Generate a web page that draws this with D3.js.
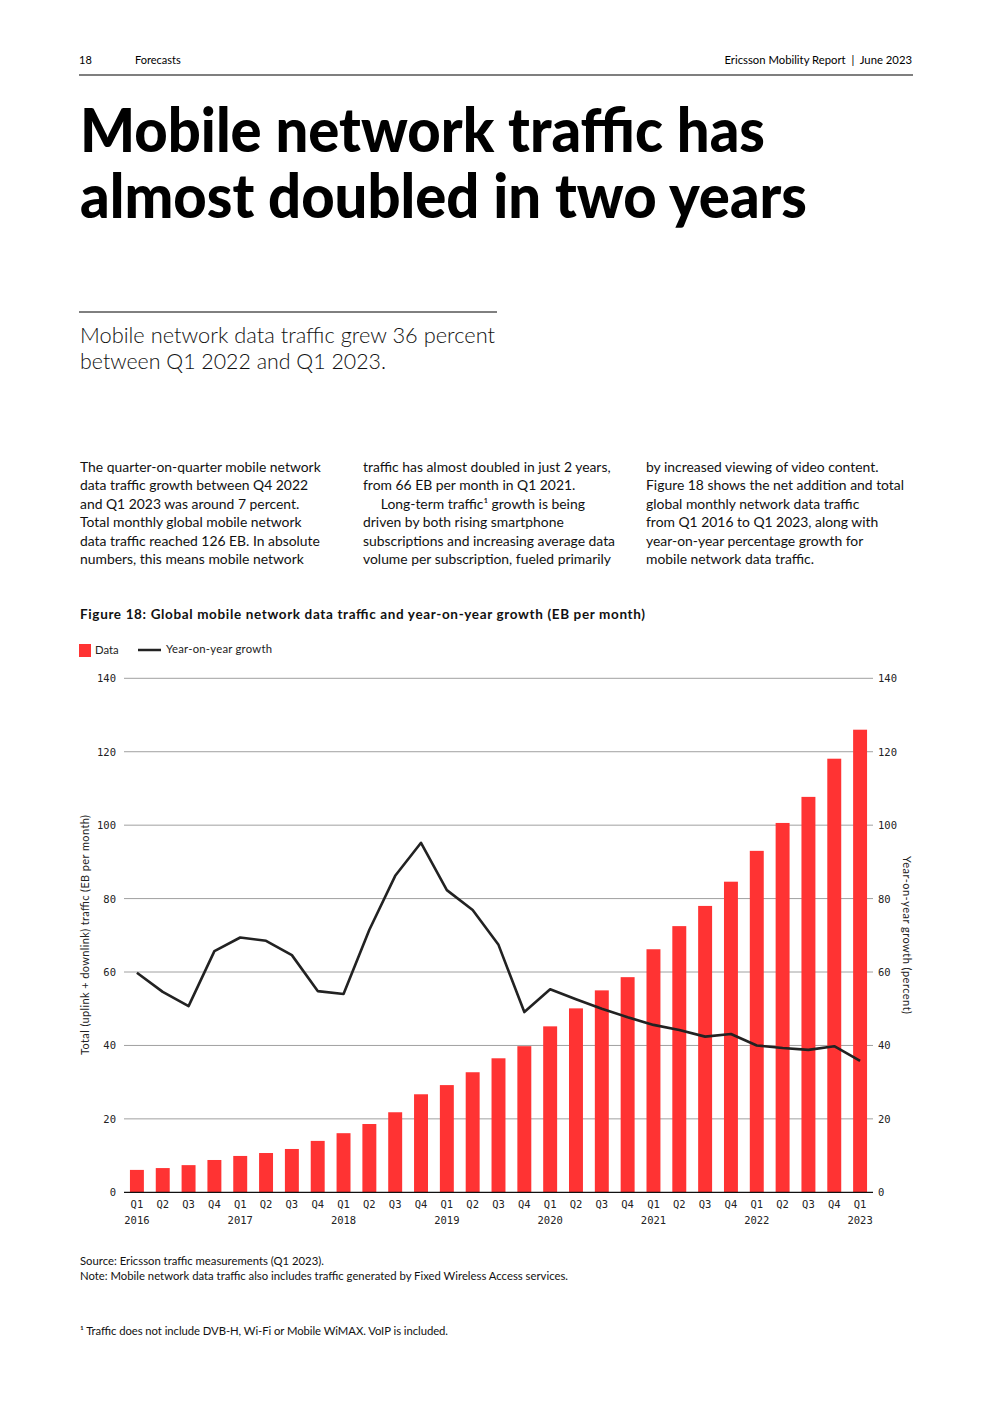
<!DOCTYPE html>
<html>
  <head>
    <meta charset="utf-8">
    <style>
      body { margin: 0; background: #fff; }
      svg { display: block; }
      .sans { font-family: Lato, "Noto Sans", sans-serif; }
      .mono { font-family: "DejaVu Sans Mono", monospace; }
    </style>
  </head>
  <body>
    <script src="https://cdn.jsdelivr.net/npm/d3@7"></script>
    <script type="text/javascript">
      // Figure 18: global mobile network data traffic (EB per month) and yoy growth
      const quarters = ['Q1','Q2','Q3','Q4','Q1','Q2','Q3','Q4','Q1','Q2','Q3','Q4','Q1','Q2','Q3','Q4',
        'Q1','Q2','Q3','Q4','Q1','Q2','Q3','Q4','Q1','Q2','Q3','Q4','Q1'];
      const years = ['2016','2017','2018','2019','2020','2021','2022','2023'];
      const traffic = [6.1, 6.6, 7.4, 8.8, 9.9, 10.7, 11.8, 14.0, 16.1, 18.6, 21.8, 26.7, 29.2, 32.7, 36.5, 39.8,
        45.2, 50.1, 55.0, 58.6, 66.2, 72.5, 78.0, 84.6, 93.0, 100.6, 107.7, 118.1, 126.0];
      const growth = [59.8, 54.6, 50.7, 65.7, 69.4, 68.5, 64.6, 54.8, 54.0, 71.5, 86.2, 95.2, 82.3, 76.9, 67.4, 49.1,
        55.3, 52.6, 50.0, 47.7, 45.6, 44.2, 42.4, 43.1, 40.0, 39.3, 38.8, 39.8, 35.8];
      const yTicks = [0, 20, 40, 60, 80, 100, 120, 140];

      const col1 = ['The quarter-on-quarter mobile network', 'data traffic growth between Q4 2022',
        'and Q1 2023 was around 7 percent.', 'Total monthly global mobile network',
        'data traffic reached 126 EB. In absolute', 'numbers, this means mobile network'];
      const col2 = ['traffic has almost doubled in just 2 years,', 'from 66 EB per month in Q1 2021.',
        '     Long-term traffic\u00b9 growth is being', 'driven by both rising smartphone',
        'subscriptions and increasing average data', 'volume per subscription, fueled primarily'];
      const col3 = ['by increased viewing of video content.', 'Figure 18 shows the net addition and total',
        'global monthly network data traffic', 'from Q1 2016 to Q1 2023, along with',
        'year-on-year percentage growth for', 'mobile network data traffic.'];

      const W = 992, H = 1403;
      const red = '#ff3333';

      const svg = d3.select('body').append('svg')
        .attr('width', W)
        .attr('height', H);

      // page header
      svg.append('text').attr('class', 'sans').attr('x', 79).attr('y', 64)
        .attr('font-size', 11).text('18');
      svg.append('text').attr('class', 'sans').attr('x', 135).attr('y', 64)
        .attr('font-size', 11).text('Forecasts');
      svg.append('text').attr('class', 'sans').attr('x', 912).attr('y', 64)
        .attr('font-size', 11.3).attr('text-anchor', 'end')
        .style('white-space', 'pre')
        .text('Ericsson Mobility Report  |  June 2023');
      svg.append('line').attr('x1', 79).attr('x2', 913).attr('y1', 75).attr('y2', 75)
        .attr('stroke', '#000').attr('stroke-width', 1.2);

      // headline
      const title = svg.append('text').attr('class', 'sans')
        .attr('font-size', 61).attr('font-weight', 900).attr('fill', '#000');
      title.append('tspan').attr('x', 80).attr('y', 152)
        .attr('textLength', 685).attr('lengthAdjust', 'spacingAndGlyphs')
        .text('Mobile network traffic has');
      title.append('tspan').attr('x', 80).attr('y', 218)
        .attr('textLength', 727).attr('lengthAdjust', 'spacingAndGlyphs')
        .text('almost doubled in two years');

      svg.append('line').attr('x1', 79).attr('x2', 497).attr('y1', 312).attr('y2', 312)
        .attr('stroke', '#000').attr('stroke-width', 1);

      const sub = svg.append('text').attr('class', 'sans')
        .attr('font-size', 21.5).attr('font-weight', 300).attr('fill', '#111');
      sub.append('tspan').attr('x', 80).attr('y', 343)
        .attr('textLength', 415).attr('lengthAdjust', 'spacingAndGlyphs')
        .text('Mobile network data traffic grew 36 percent');
      sub.append('tspan').attr('x', 80).attr('y', 369)
        .attr('textLength', 306).attr('lengthAdjust', 'spacingAndGlyphs')
        .text('between Q1 2022 and Q1 2023.');

      // body columns
      [[col1, 80], [col2, 363], [col3, 646]].forEach(([lines, x0]) => {
        svg.append('g').selectAll('text').data(lines).join('text')
          .attr('class', 'sans')
          .attr('x', x0)
          .attr('y', (d, i) => 472 + i * 18.4)
          .attr('font-size', 13.9)
          .attr('fill', '#111')
          .style('white-space', 'pre')
          .text(d => d);
      });

      // figure title + legend
      svg.append('text').attr('class', 'sans').attr('x', 80).attr('y', 619)
        .attr('font-size', 13.5).attr('font-weight', 700).attr('fill', '#111')
        .attr('textLength', 565).attr('lengthAdjust', 'spacing')
        .text('Figure 18: Global mobile network data traffic and year-on-year growth (EB per month)');

      svg.append('rect').attr('x', 79).attr('y', 644).attr('width', 12).attr('height', 13).attr('fill', red);
      svg.append('text').attr('class', 'sans').attr('x', 95).attr('y', 654)
        .attr('font-size', 11.3).attr('fill', '#222').text('Data');
      svg.append('line').attr('x1', 138).attr('x2', 161).attr('y1', 650).attr('y2', 650)
        .attr('stroke', '#222').attr('stroke-width', 2.5);
      svg.append('text').attr('class', 'sans').attr('x', 166).attr('y', 653)
        .attr('font-size', 11.3).attr('fill', '#222')
        .attr('textLength', 106).attr('lengthAdjust', 'spacing')
        .text('Year-on-year growth');

      // chart
      const plotLeft = 124, plotRight = 873, plotTop = 678.3, plotBottom = 1192.3;
      const x = d3.scaleBand()
        .domain(d3.range(quarters.length))
        .range([plotLeft, plotRight])
        .paddingInner(0.46)
        .paddingOuter(0.23);
      const y = d3.scaleLinear().domain([0, 140]).range([plotBottom, plotTop]);

      const g = svg.append('g');

      // gridlines
      g.selectAll('line.grid').data(yTicks.filter(d => d > 0)).join('line')
        .attr('class', 'grid')
        .attr('x1', plotLeft).attr('x2', plotRight)
        .attr('y1', d => y(d)).attr('y2', d => y(d))
        .attr('stroke', '#a0a0a0').attr('stroke-width', 1);

      // tick labels left/right
      g.selectAll('text.yl').data(yTicks).join('text')
        .attr('class', 'yl mono')
        .attr('x', 116).attr('y', d => y(d) + 4)
        .attr('text-anchor', 'end').attr('font-size', 10.5).attr('fill', '#222')
        .text(d => d);
      g.selectAll('text.yr').data(yTicks).join('text')
        .attr('class', 'yr mono')
        .attr('x', 878).attr('y', d => y(d) + 4)
        .attr('font-size', 10.5).attr('fill', '#222')
        .text(d => d);

      // bars
      g.selectAll('rect.bar').data(traffic).join('rect')
        .attr('class', 'bar')
        .attr('x', (d, i) => x(i))
        .attr('width', x.bandwidth())
        .attr('y', d => y(d))
        .attr('height', d => y(0) - y(d))
        .attr('fill', red);

      // baseline
      g.append('line').attr('x1', plotLeft).attr('x2', plotRight)
        .attr('y1', y(0)).attr('y2', y(0))
        .attr('stroke', '#111').attr('stroke-width', 1.2);

      // growth line
      const line = d3.line()
        .x((d, i) => x(i) + x.bandwidth() / 2)
        .y(d => y(d));
      g.append('path').datum(growth)
        .attr('d', line)
        .attr('fill', 'none')
        .attr('stroke', '#222')
        .attr('stroke-width', 2.6)
        .attr('stroke-linejoin', 'round');

      // x labels
      g.selectAll('text.q').data(quarters).join('text')
        .attr('class', 'q mono')
        .attr('x', (d, i) => x(i) + x.bandwidth() / 2)
        .attr('y', 1208)
        .attr('text-anchor', 'middle').attr('font-size', 10.5).attr('fill', '#222')
        .text(d => d);
      g.selectAll('text.yr-lab').data(years).join('text')
        .attr('class', 'yr-lab mono')
        .attr('x', (d, i) => x(i * 4) + x.bandwidth() / 2)
        .attr('y', 1224)
        .attr('text-anchor', 'middle').attr('font-size', 10.5).attr('fill', '#222')
        .text(d => d);

      // axis titles
      svg.append('text').attr('class', 'sans')
        .attr('transform', 'translate(89,935) rotate(-90)')
        .attr('text-anchor', 'middle').attr('font-size', 11).attr('fill', '#222')
        .attr('textLength', 240).attr('lengthAdjust', 'spacing')
        .text('Total (uplink + downlink) traffic (EB per month)');
      svg.append('text').attr('class', 'sans')
        .attr('transform', 'translate(903,935) rotate(90)')
        .attr('text-anchor', 'middle').attr('font-size', 11).attr('fill', '#222')
        .attr('textLength', 158).attr('lengthAdjust', 'spacing')
        .text('Year-on-year growth (percent)');

      // notes
      svg.append('text').attr('class', 'sans').attr('x', 80).attr('y', 1265)
        .attr('font-size', 11.3).attr('fill', '#111')
        .text('Source: Ericsson traffic measurements (Q1 2023).');
      svg.append('text').attr('class', 'sans').attr('x', 80).attr('y', 1280)
        .attr('font-size', 11.3).attr('fill', '#111')
        .attr('textLength', 488).attr('lengthAdjust', 'spacing')
        .text('Note: Mobile network data traffic also includes traffic generated by Fixed Wireless Access services.');
      svg.append('text').attr('class', 'sans').attr('x', 80).attr('y', 1335)
        .attr('font-size', 11.3).attr('fill', '#111')
        .attr('textLength', 368).attr('lengthAdjust', 'spacing')
        .text('\u00b9 Traffic does not include DVB-H, Wi-Fi or Mobile WiMAX. VoIP is included.');
    </script>
  </body>
</html>
